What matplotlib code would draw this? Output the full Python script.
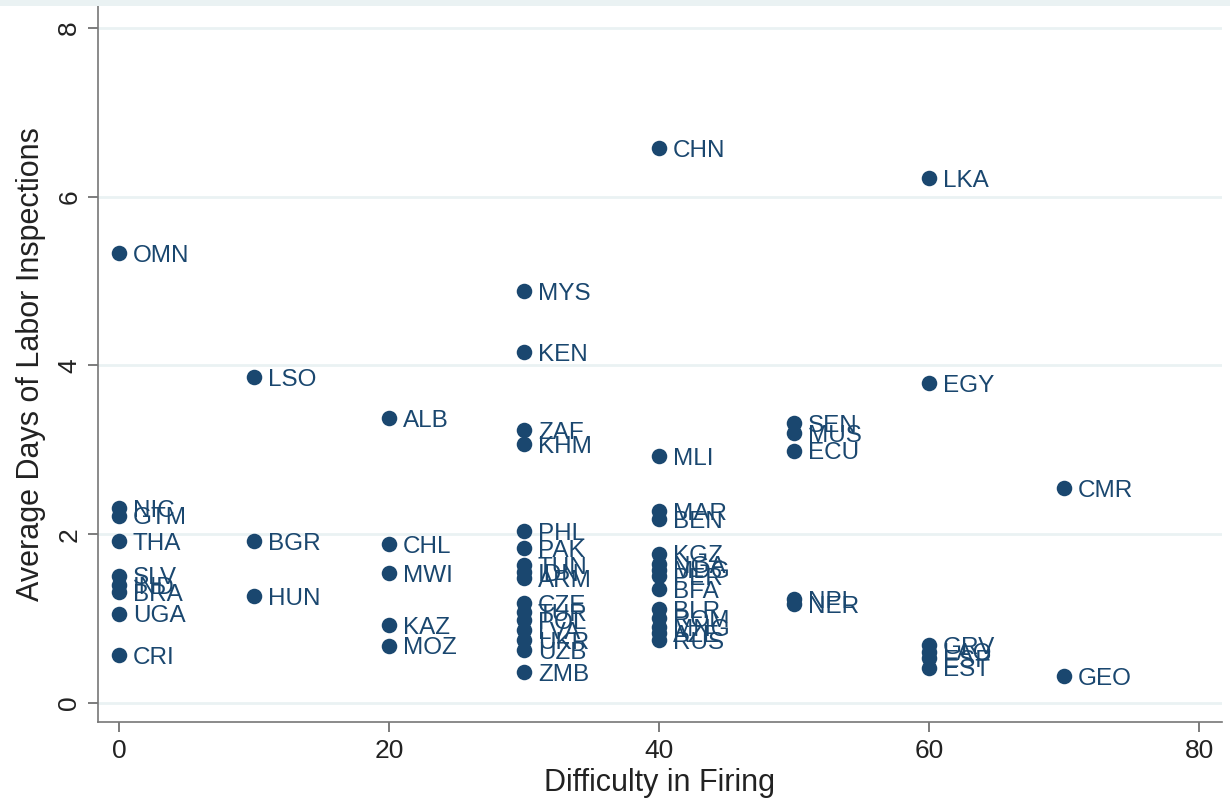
import matplotlib
matplotlib.use("Agg")
import matplotlib.pyplot as plt
from matplotlib.patches import Rectangle

countries = ["OMN", "NIC", "GTM", "THA", "SLV", "IND", "BRA", "UGA", "CRI",
             "LSO", "BGR", "HUN",
             "ALB", "CHL", "MWI", "KAZ", "MOZ",
             "MYS", "KEN", "ZAF", "KHM", "PHL", "PAK", "TUN", "IDN", "ARM",
             "CZE", "TUR", "POL", "LVA", "UKR", "UZB", "ZMB",
             "CHN", "MLI", "MAR", "BEN", "KGZ", "NGA", "MDG", "PER", "BFA",
             "BLR", "ROM", "MNG", "AZE", "RUS",
             "SEN", "MUS", "ECU", "NPL", "NER",
             "LKA", "EGY", "GRV", "LAO", "ESP", "EST",
             "CMR", "GEO"]
firing = [0, 0, 0, 0, 0, 0, 0, 0, 0,
          10, 10, 10,
          20, 20, 20, 20, 20,
          30, 30, 30, 30, 30, 30, 30, 30, 30,
          30, 30, 30, 30, 30, 30, 30,
          40, 40, 40, 40, 40, 40, 40, 40, 40,
          40, 40, 40, 40, 40,
          50, 50, 50, 50, 50,
          60, 60, 60, 60, 60, 60,
          70, 70]
inspections = [5.33, 2.31, 2.22, 1.92, 1.51, 1.40, 1.31, 1.06, 0.57,
               3.86, 1.92, 1.27,
               3.38, 1.88, 1.54, 0.92, 0.68,
               4.88, 4.16, 3.23, 3.07, 2.04, 1.84, 1.63, 1.55, 1.48,
               1.18, 1.08, 0.98, 0.86, 0.75, 0.63, 0.37,
               6.58, 2.93, 2.27, 2.18, 1.77, 1.65, 1.58, 1.50, 1.35,
               1.11, 1.01, 0.90, 0.83, 0.75,
               3.32, 3.20, 2.99, 1.23, 1.17,
               6.22, 3.79, 0.69, 0.61, 0.53, 0.42,
               2.55, 0.32]

xticks = [0, 20, 40, 60, 80]
yticks = [0, 2, 4, 6, 8]

navy = "#1A476F"
grid_c = "#EAF2F3"

plt.rcParams['font.family'] = ['Liberation Sans', 'DejaVu Sans']

fig = plt.figure(figsize=(12.3, 8.11), dpi=100, facecolor="white")
W, H = 1230, 811
left, right, top, bottom = 98, 1222, 6, 722
ax = fig.add_axes([left / W, 1 - bottom / H, (right - left) / W, (bottom - top) / H])
fig.patches.append(Rectangle((0, 1 - 6 / H), 1, 6 / H, transform=fig.transFigure,
                             facecolor=grid_c, edgecolor="none", zorder=0))

ax.set_xlim(-1.55, 81.7)
ax.set_ylim(-0.225, 8.26)
for y in yticks:
    ax.axhline(y, color=grid_c, lw=2.0, zorder=0)

ax.scatter(firing, inspections, s=125, color=navy, zorder=3, linewidths=0)
for c, x, y in zip(countries, firing, inspections):
    ax.annotate(c, (x, y), xytext=(10, -2), textcoords="offset points",
                va="center", ha="left", fontsize=17.5, color=navy, zorder=4)

ax.set_xticks(xticks)
ax.set_yticks(yticks)
ax.set_xticklabels([str(v) for v in xticks], fontsize=19)
ax.set_yticklabels([str(v) for v in yticks], fontsize=19, rotation=90, va="center")
ax.tick_params(axis="both", direction="out", length=7, width=1.2, color="#666666",
               labelcolor="#222222", pad=5)
for s in ["top", "right"]:
    ax.spines[s].set_visible(False)
for s in ["left", "bottom"]:
    ax.spines[s].set_color("#777777")
    ax.spines[s].set_linewidth(1.2)

ax.set_xlabel("Difficulty in Firing", fontsize=22, color="#222222", labelpad=4)
ax.set_ylabel("Average Days of Labor Inspections", fontsize=22, color="#222222", labelpad=8)

fig.savefig("out.png", dpi=100, facecolor="white")
